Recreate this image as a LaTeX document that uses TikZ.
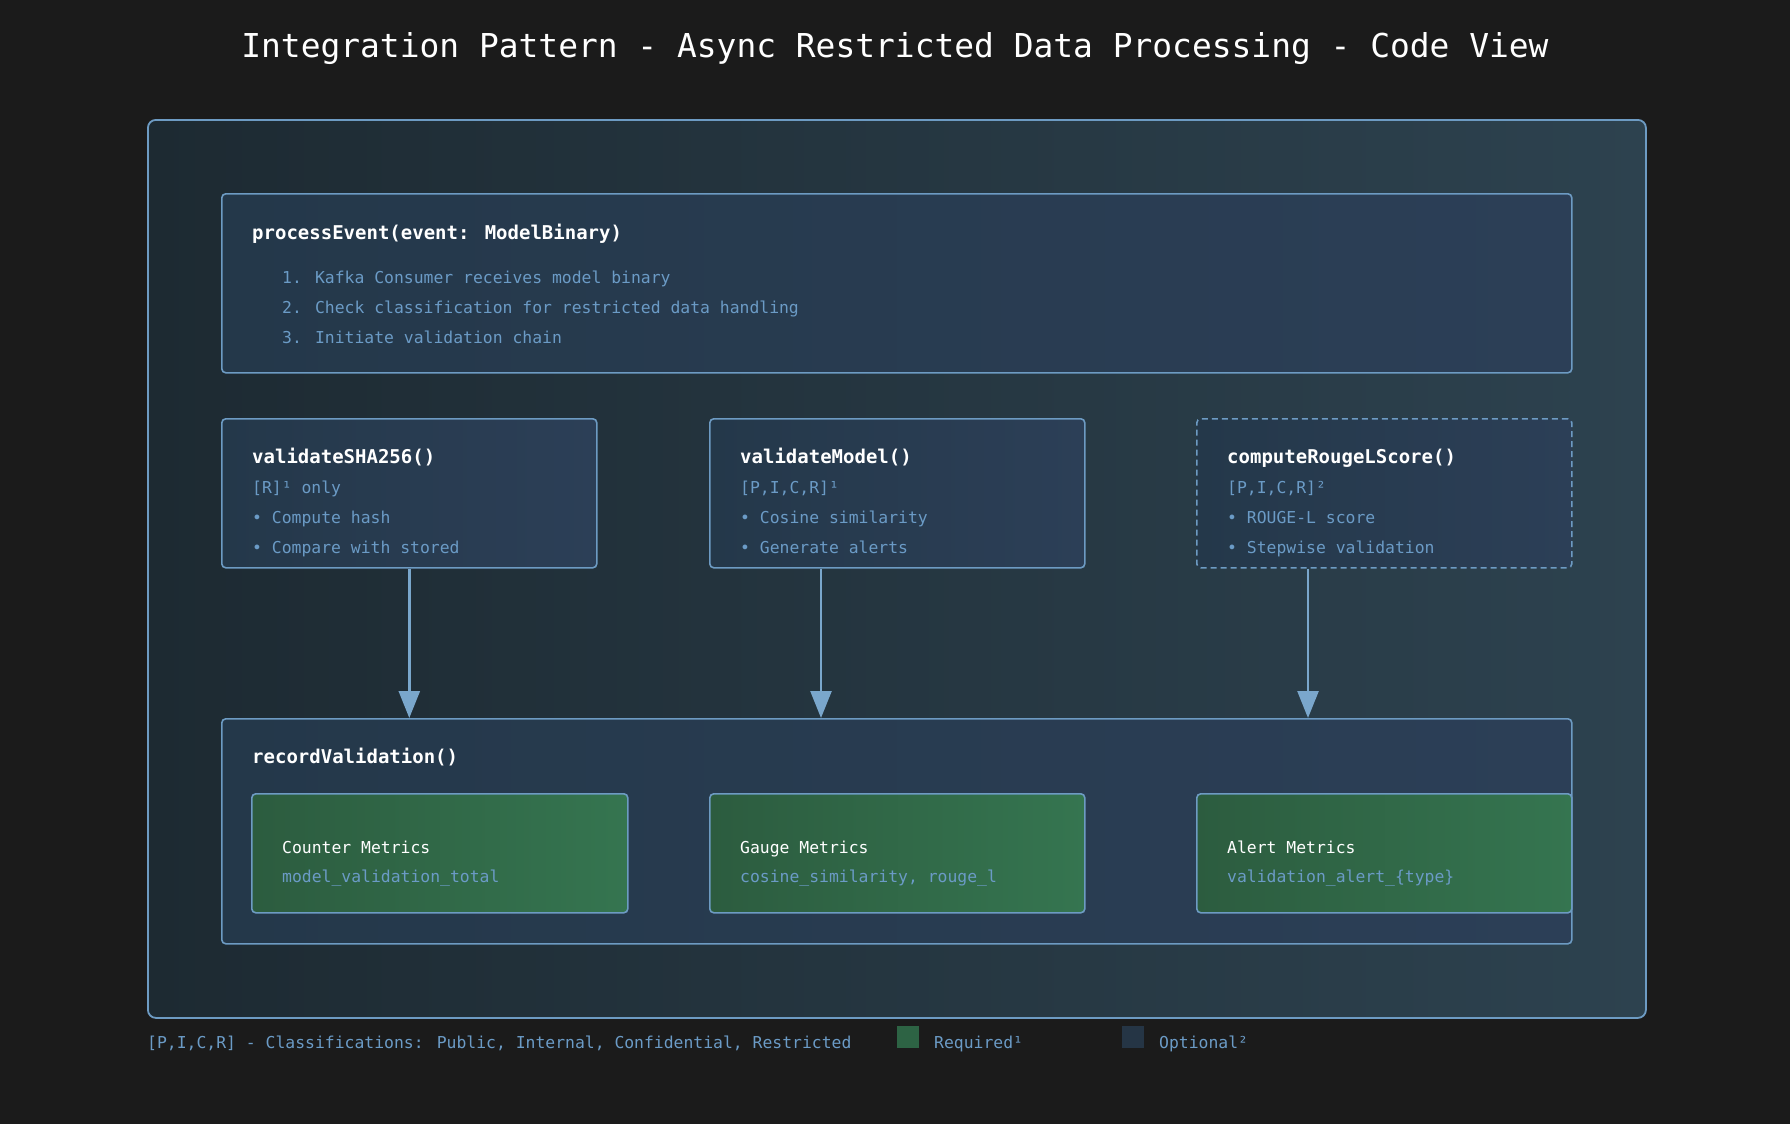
\documentclass[tikz,border=0pt]{standalone}
\usepackage{fontspec}
\newfontfamily\mono{DejaVu Sans Mono}
\usetikzlibrary{arrows.meta,calc}
\definecolor{bgc}{HTML}{1B1B1B}
\definecolor{outL}{HTML}{1D2A32}
\definecolor{outR}{HTML}{2D424F}
\definecolor{inL}{HTML}{24384A}
\definecolor{inR}{HTML}{2C3F57}
\definecolor{grL}{HTML}{2C5C3F}
\definecolor{grR}{HTML}{357550}
\definecolor{bord}{HTML}{6D9BC3}
\definecolor{soft}{HTML}{6B9BC6}
\definecolor{arrc}{HTML}{7AA7CC}
\definecolor{optc}{HTML}{253545}
\begin{document}
\begin{tikzpicture}[x=1pt,y=-1pt,
  outerbox/.style={draw=bord,line width=1.8pt,rounded corners=8pt,left color=outL,right color=outR,anchor=north west,inner sep=0pt},
  codebox/.style={draw=bord,line width=1.6pt,rounded corners=4pt,left color=inL,right color=inR,anchor=north west,inner sep=0pt},
  optbox/.style={codebox,dash pattern=on 6pt off 4pt},
  metricbox/.style={draw=bord,line width=1.6pt,rounded corners=4pt,left color=grL,right color=grR,anchor=north west,inner sep=0pt},
  ttl/.style={anchor=base,inner sep=0pt,text=white,font=\mono\fontsize{32.9}{40}\selectfont},
  head/.style={anchor=base west,inner sep=0pt,text=white,font=\mono\bfseries\fontsize{19}{23}\selectfont},
  mhead/.style={anchor=base west,inner sep=0pt,text=white,font=\mono\fontsize{16.4}{20}\selectfont},
  body/.style={anchor=base west,inner sep=0pt,text=soft,font=\mono\fontsize{16.4}{20}\selectfont},
  arr/.style={draw=arrc,line width=2.6pt,-{Triangle[length=27pt,width=21pt]},arrc}
]
\fill[bgc] (0,0) rectangle (1790,1124);
\useasboundingbox (0,0) rectangle (1790,1124);

\node[ttl] (title) at (895,58) {Integration Pattern - Async Restricted Data Processing - Code View};

\node[outerbox,minimum width=1498pt,minimum height=898pt] (outer) at (147,119) {};

% process event box
\node[codebox,minimum width=1350pt,minimum height=179pt] (proc) at (221,193) {};
\node[head] (proct) at (252,239) {processEvent(event: ModelBinary)};
\node[body] (proc1) at (282,283) {1. Kafka Consumer receives model binary};
\node[body] (proc2) at (282,313) {2. Check classification for restricted data handling};
\node[body] (proc3) at (282,343) {3. Initiate validation chain};

% validation boxes
\node[codebox,minimum width=375pt,minimum height=149pt] (v1) at (221,418) {};
\node[codebox,minimum width=375pt,minimum height=149pt] (v2) at (709,418) {};
\node[optbox,minimum width=375pt,minimum height=149pt] (v3) at (1196,418) {};

\node[head] (v1t) at (252,463) {validateSHA256()};
\node[body] (v1a) at (252,493) {[R]¹ only};
\node[body] (v1b) at (252,523) {• Compute hash};
\node[body] (v1c) at (252,553) {• Compare with stored};

\node[head] (v2t) at (740,463) {validateModel()};
\node[body] (v2a) at (740,493) {[P,I,C,R]¹};
\node[body] (v2b) at (740,523) {• Cosine similarity};
\node[body] (v2c) at (740,553) {• Generate alerts};

\node[head] (v3t) at (1227,463) {computeRougeLScore()};
\node[body] (v3a) at (1227,493) {[P,I,C,R]²};
\node[body] (v3b) at (1227,523) {• ROUGE-L score};
\node[body] (v3c) at (1227,553) {• Stepwise validation};

% record box
\node[codebox,minimum width=1350pt,minimum height=225pt] (rec) at (221,718) {};
\node[head] (rect) at (252,763) {recordValidation()};

\node[metricbox,minimum width=376pt,minimum height=119pt] (m1) at (251,793) {};
\node[metricbox,minimum width=375pt,minimum height=119pt] (m2) at (709,793) {};
\node[metricbox,minimum width=375pt,minimum height=119pt] (m3) at (1196,793) {};

\node[mhead] (m1t) at (282,853) {Counter Metrics};
\node[body] (m1a) at (282,882) {model\_validation\_total};
\node[mhead] (m2t) at (740,853) {Gauge Metrics};
\node[body] (m2a) at (740,882) {cosine\_similarity, rouge\_l};
\node[mhead] (m3t) at (1227,853) {Alert Metrics};
\node[body] (m3a) at (1227,882) {validation\_alert\_\{type\}};

% arrows
\draw[arr] (v1.south) -- (v1.south |- rec.north);
\draw[arr] ([xshift=112pt]v2.south west) -- ([xshift=112pt]v2.south west |- rec.north);
\draw[arr] ([xshift=112pt]v3.south west) -- ([xshift=112pt]v3.south west |- rec.north);

% legend
\node[body] (leg) at (147,1048) {[P,I,C,R] - Classifications: Public, Internal, Confidential, Restricted};
\node[fill=grR!85!black,minimum width=22pt,minimum height=22pt,inner sep=0pt,anchor=north west] (legreq) at (897,1026) {};
\node[body] (legreqt) at (934,1048) {Required¹};
\node[fill=optc,minimum width=22pt,minimum height=22pt,inner sep=0pt,anchor=north west] (legopt) at (1122,1026) {};
\node[body] (legoptt) at (1159,1048) {Optional²};
\end{tikzpicture}
\end{document}
